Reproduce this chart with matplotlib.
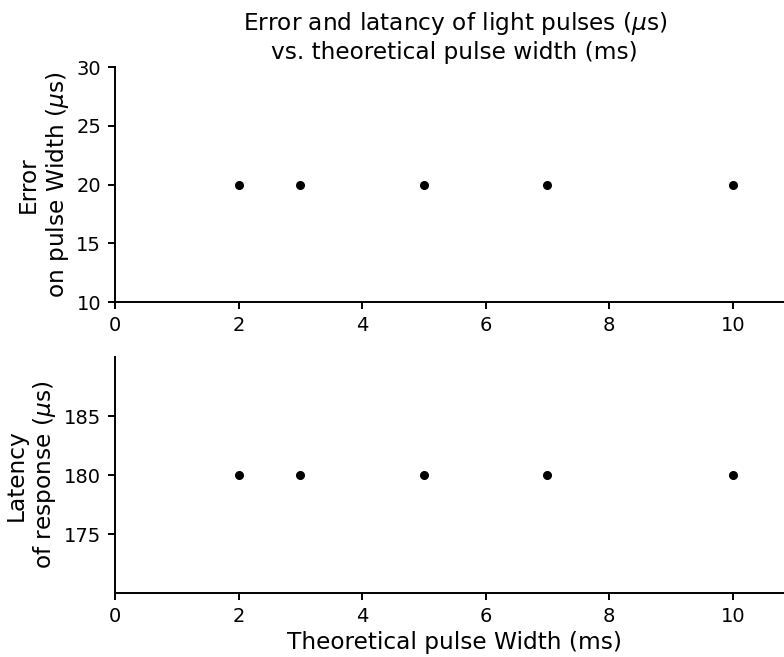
import matplotlib
matplotlib.use('Agg')
import matplotlib.pyplot as plt

# pulse widths tested (ms) and measured values (us)
pulse_width = [2, 3, 5, 7, 10]
error_us = [20, 20, 20, 20, 20]
latency_us = [180, 180, 180, 180, 180]

fig = plt.figure(figsize=(7.84, 6.57), dpi=100)
ax1 = fig.add_axes([0.1467, 0.5403, 0.8667, 0.3577])
ax2 = fig.add_axes([0.1467, 0.0974, 0.8667, 0.3592])

ax1.plot(pulse_width, error_us, 'o', color='black', markersize=5.5)
ax1.set_xlim(0, 11)
ax1.set_ylim(10, 30)
ax1.set_xticks([0, 2, 4, 6, 8, 10])
ax1.set_yticks([10, 15, 20, 25, 30])
ax1.set_ylabel('Error\non pulse Width ($\\mu$s)', fontsize=16.75)
ax1.set_title('Error and latancy of light pulses ($\\mu$s)\nvs. theoretical pulse width (ms)', fontsize=16.75)

ax2.plot(pulse_width, latency_us, 'o', color='black', markersize=5.5)
ax2.set_xlim(0, 11)
ax2.set_ylim(170, 190)
ax2.set_xticks([0, 2, 4, 6, 8, 10])
ax2.set_yticks([175, 180, 185])
ax2.set_ylabel('Latency\nof response ($\\mu$s)', fontsize=16.75)
ax2.set_xlabel('Theoretical pulse Width (ms)', fontsize=16.75)

for ax in (ax1, ax2):
    ax.spines['top'].set_visible(False)
    ax.spines['right'].set_visible(False)
    ax.spines['left'].set_linewidth(1.4)
    ax.spines['bottom'].set_linewidth(1.4)
    ax.tick_params(labelsize=14, length=5, width=1.4, pad=5)

plt.savefig('out.png')
